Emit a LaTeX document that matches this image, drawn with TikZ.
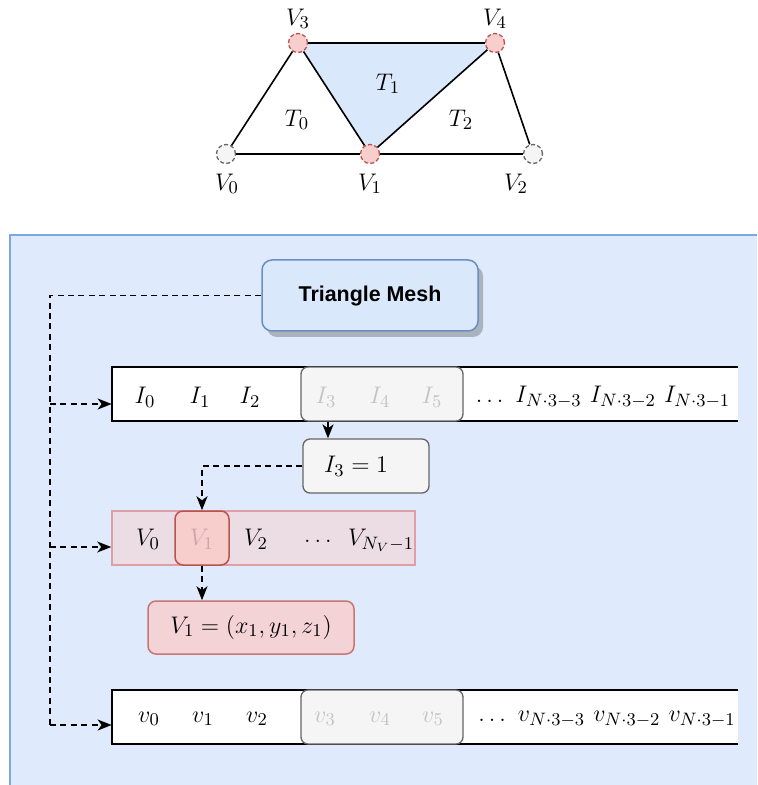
\documentclass[tikz,border=0pt]{standalone}
\usepackage{fontspec}
\newfontfamily\titlefont{Liberation Sans}
\usetikzlibrary{arrows.meta,fit}
\definecolor{panelfill}{RGB}{223,234,252}
\definecolor{panelborder}{RGB}{126,166,224}
\definecolor{bluefill}{RGB}{218,232,252}
\definecolor{blueline}{RGB}{108,142,191}
\definecolor{shadowgray}{RGB}{170,178,190}
\definecolor{redfill}{RGB}{248,206,204}
\definecolor{redline}{RGB}{184,84,80}
\definecolor{grayfill}{RGB}{245,245,245}
\definecolor{grayline}{RGB}{102,102,102}
\definecolor{fadetext}{RGB}{195,195,195}
\definecolor{fadered}{RGB}{205,165,168}
\definecolor{vbarfill}{RGB}{236,221,229}
\definecolor{vbarline}{RGB}{222,160,165}
\definecolor{valfill}{RGB}{243,211,214}
\begin{document}
\begin{tikzpicture}[x=0.5pt,y=-0.5pt,
  mtext/.style={font=\fontsize{12.5}{14}\selectfont, inner sep=0pt},
  vtxred/.style={circle, minimum size=9.5pt, inner sep=0pt, fill=redfill, draw=redline, dashed, dash pattern=on 2pt off 1.2pt, line width=0.65pt},
  vtxgray/.style={circle, minimum size=9.5pt, inner sep=0pt, fill=grayfill, draw=grayline, dashed, dash pattern=on 2pt off 1.2pt, line width=0.65pt},
  edge/.style={line width=0.8pt, black},
  boxfit/.style={inner sep=0pt},
  graybox/.style={boxfit, fill=grayfill, draw=grayline, line width=0.65pt, rounded corners=3.5pt},
  barline/.style={line width=1pt, black},
  dline/.style={line width=0.9pt, dash pattern=on 3pt off 2.2pt},
  arr/.style={-{Stealth[length=7pt,width=5.5pt,inset=2pt]}},
]
\useasboundingbox (0,0) rectangle (757,785);

% ---------- top mesh ----------
\coordinate (p0) at (226,154);
\coordinate (p1) at (370,154);
\coordinate (p2) at (533,154);
\coordinate (p3) at (298,43);
\coordinate (p4) at (495,43);
\fill[bluefill] (p3) -- (p4) -- (p1) -- cycle;
\node[vtxgray] (v0) at (p0) {};
\node[vtxred]  (v1) at (p1) {};
\node[vtxgray] (v2) at (p2) {};
\node[vtxred]  (v3) at (p3) {};
\node[vtxred]  (v4) at (p4) {};
\draw[edge] (v0) -- (v3);
\draw[edge] (v3) -- (v1);
\draw[edge] (v3) -- (v4);
\draw[edge] (v4) -- (v1);
\draw[edge] (v4) -- (v2);
\draw[edge] (v0) -- (v1);
\draw[edge] (v1) -- (v2);
\node[mtext] (l3) at (298,19) {$V_3$};
\node[mtext] (l4) at (495,19) {$V_4$};
\node[mtext] (l0) at (227,184) {$V_0$};
\node[mtext] (l1) at (370,184) {$V_1$};
\node[mtext] (l2) at (516,184) {$V_2$};
\node[mtext] (t0) at (297,120) {$T_0$};
\node[mtext] (t1) at (388,84) {$T_1$};
\node[mtext] (t2) at (461,120) {$T_2$};

% ---------- panel ----------
\fill[panelfill] (10,235) rectangle (757,785);
\draw[panelborder, line width=0.8pt] (10,785) -- (10,235) -- (757,235);

% Triangle Mesh box with shadow
\node[boxfit, fit={(267,266)(483,337)}, fill=shadowgray, rounded corners=5pt] (meshshadow) {};
\node[boxfit, fit={(262,260)(478,331)}, fill=bluefill, draw=blueline, line width=0.75pt, rounded corners=5pt] (mesh) {};
\node[font=\titlefont\bfseries\fontsize{10.7}{12}\selectfont, inner sep=0pt] (meshtxt) at (370,296) {Triangle Mesh};

% index bar
\node[boxfit, fit={(112,367)(738,421)}, fill=white] (ibar) {};
\draw[barline] (ibar.north east) -- (ibar.north west) -- (ibar.south west) -- (ibar.south east);
\node[graybox, fit={(301,367)(463,421)}] (isel) {};
\node[mtext] (i0) at (145,397) {$I_0$};
\node[mtext] (i1) at (200,397) {$I_1$};
\node[mtext] (i2) at (250,397) {$I_2$};
\node[mtext, text=fadetext] (i3) at (326,397) {$I_3$};
\node[mtext, text=fadetext] (i4) at (380,397) {$I_4$};
\node[mtext, text=fadetext] (i5) at (432,397) {$I_5$};
\node[mtext] (irest) at (603,397) {$\dots\ I_{N\cdot 3-3}\ I_{N\cdot 3-2}\ I_{N\cdot 3-1}$};

% I3 = 1 box
\node[graybox, fit={(303,439)(429,493)}] (i3box) {};
\node[mtext] (i3txt) at (356,466) {$I_3 = 1$};
\coordinate (cx328) at (328,0);
\draw[arr, line width=0.8pt] (isel.south -| cx328) -- (i3box.north -| cx328);

% vertex bar
\node[boxfit, fit={(112,511)(415,565)}, fill=vbarfill, draw=vbarline, line width=0.8pt] (vbar) {};
\node[boxfit, fit={(175,511)(229,565)}, fill=redfill, draw=redline, line width=0.75pt, rounded corners=4pt] (v1box) {};
\node[mtext] (vb0) at (148,539) {$V_0$};
\node[mtext, text=fadered] (vb1) at (202,539) {$V_1$};
\node[mtext] (vb2) at (256,539) {$V_2$};
\node[mtext] (vbd) at (318,541) {$\dots$};
\node[mtext] (vbn) at (381,540) {$V_{N_V-1}$};

\draw[dline, arr] (i3box.west) -| (v1box.north);

% V1 value box
\node[boxfit, fit={(148,601)(354,654)}, fill=valfill, draw=redline!80, line width=0.75pt, rounded corners=4pt] (v1val) {};
\node[mtext] (v1valtxt) at (251,627) {$V_1 = (x_1, y_1, z_1)$};
\draw[dline, arr] (v1box.south) -- (v1box.south |- v1val.north);

% vertex-data bar
\node[boxfit, fit={(112,690)(738,744)}, fill=white] (dbar) {};
\draw[barline] (dbar.north east) -- (dbar.north west) -- (dbar.south west) -- (dbar.south east);
\node[graybox, fit={(301,690)(463,744)}] (dsel) {};
\node[mtext] (d0) at (149,719) {$v_0$};
\node[mtext] (d1) at (203,719) {$v_1$};
\node[mtext] (d2) at (257,719) {$v_2$};
\node[mtext, text=fadetext] (d3) at (325,719) {$v_3$};
\node[mtext, text=fadetext] (d4) at (380,719) {$v_4$};
\node[mtext, text=fadetext] (d5) at (433,719) {$v_5$};
\node[mtext] (drest) at (607,719) {$\dots\ v_{N\cdot 3-3}\ v_{N\cdot 3-2}\ v_{N\cdot 3-1}$};

% trunk and branches
\coordinate (j1) at (50,404);
\coordinate (j2) at (50,547);
\coordinate (j3) at (50,725);
\draw[dline] (mesh.west) -| (j3);
\draw[dline, arr] (j1) -- (ibar.west |- j1);
\draw[dline, arr] (j2) -- (vbar.west |- j2);
\draw[dline, arr] (j3) -- (dbar.west |- j3);
\end{tikzpicture}
\end{document}
